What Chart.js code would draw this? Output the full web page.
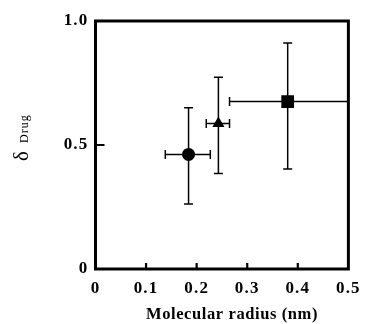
<!DOCTYPE html>
<html><head><meta charset="utf-8">
<script src="https://cdn.jsdelivr.net/npm/chart.js@4/dist/chart.umd.min.js"></script>
<style>html,body{margin:0;padding:0;background:#fff}#wrap{width:368px;height:324px}</style>
</head><body><div id="wrap"><canvas id="c" width="368" height="324"></canvas></div>
<script>
// Data
const xVals = [0.184, 0.243, 0.380];      // molecular radius (nm)
const yVals = [0.462, 0.587, 0.675];      // delta_Drug
const xErrLow = [0.138, 0.219, 0.265];
const xErrHigh = [0.227, 0.265, 0.52];
const yErrLow = [0.262, 0.385, 0.403];
const yErrHigh = [0.650, 0.773, 0.911];
const markerStyles = ['circle', 'triangle', 'rect'];
const xTickValues = [0, 0.1, 0.2, 0.3, 0.4, 0.5];
const xTickLabels = ['0', '0.1', '0.2', '0.3', '0.4', '0.5'];
const yTickValues = [0, 0.5, 1.0];
const yTickLabels = ['0', '0.5', '1.0'];
const xTitle = 'Molecular radius (nm)';
const yTitleMain = 'δ';
const yTitleSub = 'Drug';

const serif = '"Liberation Serif", "DejaVu Serif", serif';

const spacing = {
  id: 'spacing',
  beforeDraw(chart) { chart.ctx.letterSpacing = '1.2px'; }
};

const errorBars = {
  id: 'errorBars',
  beforeDatasetsDraw(chart) {
    const {ctx, scales: {x, y}, chartArea} = chart;
    ctx.save();
    ctx.beginPath();
    ctx.rect(chartArea.left, chartArea.top, chartArea.right - chartArea.left, chartArea.bottom - chartArea.top);
    ctx.clip();
    ctx.strokeStyle = '#000';
    ctx.lineWidth = 1.5;
    const cap = 4.5;
    for (let i = 0; i < xVals.length; i++) {
      const px = x.getPixelForValue(xVals[i]);
      const py = y.getPixelForValue(yVals[i]);
      const x1 = x.getPixelForValue(xErrLow[i]), x2 = x.getPixelForValue(xErrHigh[i]);
      const y1 = y.getPixelForValue(yErrLow[i]), y2 = y.getPixelForValue(yErrHigh[i]);
      ctx.beginPath();
      ctx.moveTo(x1, py); ctx.lineTo(x2, py);
      ctx.moveTo(x1, py - cap); ctx.lineTo(x1, py + cap);
      ctx.moveTo(x2, py - cap); ctx.lineTo(x2, py + cap);
      ctx.moveTo(px, y1); ctx.lineTo(px, y2);
      ctx.moveTo(px - cap, y1); ctx.lineTo(px + cap, y1);
      ctx.moveTo(px - cap, y2); ctx.lineTo(px + cap, y2);
      ctx.stroke();
    }
    ctx.restore();
  }
};

const frame = {
  id: 'frame',
  afterDraw(chart) {
    const {ctx, scales: {x, y}, chartArea: a} = chart;
    ctx.save();
    ctx.strokeStyle = '#000';
    ctx.lineWidth = 3;
    ctx.strokeRect(a.left, a.top, a.right - a.left, a.bottom - a.top);
    // inward tick marks
    ctx.lineWidth = 2.2;
    ctx.beginPath();
    xTickValues.forEach(v => {
      if (v <= 0 || v >= 0.5) return;
      const px = x.getPixelForValue(v);
      ctx.moveTo(px, a.bottom); ctx.lineTo(px, a.bottom - 6);
    });
    yTickValues.forEach(v => {
      if (v <= 0 || v >= 1) return;
      const py = y.getPixelForValue(v);
      ctx.moveTo(a.left, py); ctx.lineTo(a.left + 9, py);
    });
    ctx.stroke();
    ctx.fillStyle = '#000';
    // x title
    ctx.letterSpacing = '0.6px';
    ctx.font = 'bold 16.5px ' + serif;
    ctx.textAlign = 'center';
    ctx.textBaseline = 'alphabetic';
    ctx.fillText(xTitle, 232, 319);
    // y title with subscript
    ctx.textAlign = 'left';
    ctx.rotate(-Math.PI / 2);
    ctx.letterSpacing = '0px';
    ctx.font = '21px ' + serif;
    ctx.fillText(yTitleMain, -161, 28);
    ctx.letterSpacing = '1px';
    ctx.font = '12px ' + serif;
    ctx.fillText(yTitleSub, -143, 28);
    ctx.restore();
  }
};

new Chart(document.getElementById('c'), {
  type: 'scatter',
  data: {
    datasets: [{
      data: xVals.map((v, i) => ({x: v, y: yVals[i]})),
      pointStyle: markerStyles,
      pointRadius: [6.5, 7, 9],
      pointHoverRadius: [6.5, 7, 9],
      backgroundColor: '#000',
      borderColor: '#000',
      borderWidth: 0
    }]
  },
  options: {
    responsive: false,
    animation: false,
    devicePixelRatio: 1,
    layout: {padding: {top: 21, right: 17, left: 0, bottom: 0}},
    plugins: {legend: {display: false}, tooltip: {enabled: false}},
    scales: {
      x: {
        type: 'linear', min: 0, max: 0.5,
        grid: {display: false, drawTicks: false},
        border: {display: false},
        afterBuildTicks: s => { s.ticks = xTickValues.map(v => ({value: v})); },
        afterFit: s => { s.height = 55; },
        ticks: {
          padding: 9, color: '#000', maxRotation: 0,
          font: {family: serif, size: 17, weight: 'bold'},
          callback: (v) => xTickLabels[xTickValues.findIndex(t => Math.abs(t - v) < 1e-9)]
        },
        title: {display: false, text: xTitle}
      },
      y: {
        type: 'linear', min: 0, max: 1,
        grid: {display: false, drawTicks: false},
        border: {display: false},
        afterBuildTicks: s => { s.ticks = yTickValues.map(v => ({value: v})); },
        afterFit: s => { s.width = 95.5; },
        ticks: {
          padding: 7, color: '#000',
          font: {family: serif, size: 17, weight: 'bold'},
          callback: (v) => yTickLabels[yTickValues.findIndex(t => Math.abs(t - v) < 1e-9)]
        }
      }
    }
  },
  plugins: [spacing, errorBars, frame]
});
</script></body></html>
